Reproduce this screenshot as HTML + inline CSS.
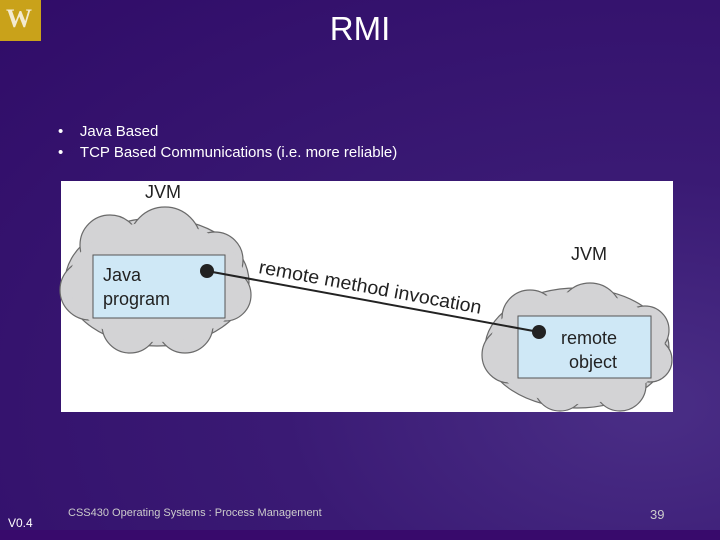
<!DOCTYPE html>
<html><head><style>
body{margin:0;width:720px;height:540px;overflow:hidden;position:relative;
background:radial-gradient(ellipse at 90% 75%,#4a2e86 0%,#3a1a74 40%,#300c68 100%);
font-family:"Liberation Sans",sans-serif;color:#fff}
.abs{position:absolute}
</style></head><body>
<div class="abs" style="left:0;top:0;width:41px;height:41px;background:#c9a21a;"></div>
<div class="abs" style="left:6px;top:4px;font-family:'Liberation Serif',serif;font-weight:bold;font-size:26px;color:#f3ead0">W</div>
<div class="abs" style="left:0;width:720px;top:10px;text-align:center;font-size:33px;color:#fff">RMI</div>
<div class="abs" style="left:58px;top:121px;font-size:15px;line-height:21px">•&nbsp;&nbsp;&nbsp;&nbsp;Java Based<br>•&nbsp;&nbsp;&nbsp;&nbsp;TCP Based Communications (i.e. more reliable)</div>
<div class="abs" style="left:61px;top:181px;width:612px;height:231px;background:#fff"></div>
<svg class="abs" style="left:0;top:0" width="720" height="540">
<g fill="#d3d3d5" stroke="#6a6a6a" stroke-width="1.2">
<ellipse cx="157" cy="282" rx="92" ry="64"/>
<circle cx="110" cy="245" r="30"/><circle cx="165" cy="243" r="36"/><circle cx="215" cy="260" r="28"/>
<circle cx="90" cy="290" r="30"/><circle cx="130" cy="325" r="28"/><circle cx="185" cy="325" r="28"/><circle cx="225" cy="295" r="26"/>
<ellipse cx="577" cy="348" rx="92" ry="60"/>
<circle cx="530" cy="318" r="28"/><circle cx="590" cy="315" r="32"/><circle cx="645" cy="330" r="24"/>
<circle cx="510" cy="355" r="28"/><circle cx="560" cy="385" r="26"/><circle cx="620" cy="385" r="26"/><circle cx="650" cy="360" r="22"/>
</g>
<g fill="#d3d3d5">
<ellipse cx="157" cy="282" rx="88" ry="60"/><ellipse cx="577" cy="348" rx="88" ry="56"/>
</g>
<rect x="93" y="255" width="132" height="63" fill="#cfe8f6" stroke="#555" stroke-width="1"/>
<rect x="518" y="316" width="133" height="62" fill="#cfe8f6" stroke="#555" stroke-width="1"/>
<line x1="207" y1="271" x2="539" y2="332" stroke="#222" stroke-width="2"/>
<circle cx="207" cy="271" r="7" fill="#222"/><circle cx="539" cy="332" r="7" fill="#222"/>
<g font-family="Liberation Sans,sans-serif" fill="#222" font-size="18">
<text x="145" y="198">JVM</text><text x="571" y="260">JVM</text>
<text x="103" y="281">Java</text><text x="103" y="305">program</text>
<text x="561" y="344">remote</text><text x="569" y="368">object</text>
<text x="258" y="273" font-size="19" textLength="226" lengthAdjust="spacingAndGlyphs" transform="rotate(10.4 258 273)">remote method invocation</text>
</g>
</svg>
<div class="abs" style="left:8px;top:516px;font-size:12px">V0.4</div>
<div class="abs" style="left:68px;top:507px;font-size:11px;color:#ccc">CSS430 Operating Systems : Process Management</div>
<div class="abs" style="left:650px;top:507px;font-size:13px;color:#ccc">39</div>
<div class="abs" style="left:0;top:530px;width:720px;height:10px;background:#380a6c"></div>
</body></html>
